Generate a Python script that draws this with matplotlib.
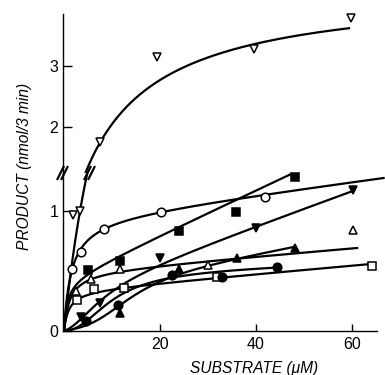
import numpy as np
import matplotlib
matplotlib.use("Agg")
import matplotlib.pyplot as plt
from matplotlib.lines import Line2D

plt.rcParams['font.family'] = ['Liberation Sans', 'DejaVu Sans']

# ---------------- data ----------------
# substrate (uM) and product (nmol/3 min) per series
s_opendown = [1.8, 3.4, 7.5, 19.3, 39.6, 59.8]
v_opendown = [0.97, 1.0, 1.76, 3.15, 3.28, 3.79]

s_opencirc = [1.7, 3.5, 8.3, 20.3, 41.8]
v_opencirc = [0.52, 0.66, 0.85, 0.99, 1.12]

s_fillsq = [4.9, 11.6, 23.9, 35.8, 48.1]
v_fillsq = [0.51, 0.585, 0.83, 0.99, 1.28]

s_filldown = [3.6, 7.5, 20.0, 40.0, 60.3]
v_filldown = [0.12, 0.23, 0.61, 0.86, 1.175]

s_openup = [2.6, 5.6, 11.7, 29.9, 60.1]
v_openup = [0.33, 0.43, 0.52, 0.55, 0.84]

s_opensq = [2.8, 6.3, 12.4, 31.8, 64.1]
v_opensq = [0.26, 0.35, 0.36, 0.45, 0.545]

s_fillcirc = [4.6, 11.3, 22.4, 33.0, 44.3]
v_fillcirc = [0.08, 0.22, 0.47, 0.45, 0.535]

s_fillup = [11.7, 24.0, 36.0, 48.2]
v_fillup = [0.15, 0.52, 0.61, 0.69]

# fitted curve parameters: (Vmax, K, n, linear k, S end)
fit_opendown = (4.3, 11.0, 1, 0.0, 59.6)
fit_opencirc = (0.95, 1.5, 1, 0.0052, 66.8)
fit_fillsq = (0.43, 0.7, 1, 0.0187, 48.1)
fit_filldown = (0.30, 8.0, 2, 0.0145, 60.3)
fit_openup = (0.5, 1.2, 1, 0.0033, 61.3)
fit_opensq = (0.34, 1.0, 1, 0.0035, 64.1)
fit_fillcirc = (0.48, 10.0, 2.2, 0.0015, 44.3)
fit_fillup = (0.35, 14.0, 3, 0.0075, 48.2)

x_ticks = [20, 40, 60]
y_ticks_low = [0, 1]
y_ticks_high = [2, 3]

# ---------------- layout ----------------
W, H = 385, 375
fig = plt.figure(figsize=(W / 100, H / 100), dpi=100)


def frac(x0, y0, x1, y1):
    return [x0 / W, 1 - y1 / H, (x1 - x0) / W, (y1 - y0) / H]


ax_lo = fig.add_axes(frac(62.5, 173, 377, 331))
ax_hi = fig.add_axes(frac(62.5, 14, 377, 173))

XL = (-0.31, 65.2)
ax_lo.set_xlim(*XL)
ax_hi.set_xlim(*XL)
ax_lo.set_ylim(0, 1.317)
ax_hi.set_ylim(1.242, 3.862)

for ax in (ax_lo, ax_hi):
    ax.patch.set_visible(False)
    for sp in ('top', 'right'):
        ax.spines[sp].set_visible(False)
    ax.spines['left'].set_linewidth(1.0)
ax_hi.spines['bottom'].set_visible(False)
ax_lo.spines['bottom'].set_linewidth(1.0)

tick_kw = dict(direction='in', width=1.0, labelsize=11.5, color='black')
ax_lo.tick_params(axis='x', length=5, pad=4, **tick_kw)
ax_lo.tick_params(axis='y', length=6.5, pad=3, **tick_kw)
ax_hi.tick_params(axis='y', length=6.5, pad=3, **tick_kw)
ax_hi.tick_params(axis='x', bottom=False, labelbottom=False)
ax_lo.set_xticks(x_ticks)
ax_lo.set_yticks(y_ticks_low)
ax_hi.set_yticks(y_ticks_high)


def fit(S, V, K, n, k):
    S = np.asarray(S, dtype=float)
    return V * S ** n / (K ** n + S ** n) + k * S


lw = 1.6
BREAK = 1.28


def draw_curve(params, axes, clip=True):
    V, K, n, k, smax = params
    S = np.linspace(0, smax, 400)
    for ax in axes:
        ax.plot(S, fit(S, V, K, n, k), color='black', lw=lw,
                solid_capstyle='butt', clip_on=clip, zorder=2)


draw_curve(fit_opendown, (ax_lo, ax_hi))
draw_curve(fit_opencirc, (ax_lo,), clip=False)
draw_curve(fit_fillsq, (ax_lo,))
draw_curve(fit_filldown, (ax_lo,))
draw_curve(fit_openup, (ax_lo,))
draw_curve(fit_opensq, (ax_lo,))
draw_curve(fit_fillcirc, (ax_lo,))
draw_curve(fit_fillup, (ax_lo,))

ms = 6.2
mew = 1.1


def pts(ax, s, v, marker, filled):
    ax.plot(s, v, linestyle='none', marker=marker, ms=ms, mew=mew,
            mec='black', mfc='black' if filled else 'white',
            clip_on=False, zorder=4)


sd = np.array(s_opendown)
vd = np.array(v_opendown)
low = vd < BREAK
pts(ax_lo, sd[low], vd[low], 'v', False)
pts(ax_hi, sd[~low], vd[~low], 'v', False)
pts(ax_lo, s_opencirc, v_opencirc, 'o', False)
pts(ax_lo, s_fillsq, v_fillsq, 's', True)
pts(ax_lo, s_filldown, v_filldown, 'v', True)
pts(ax_lo, s_openup, v_openup, '^', False)
pts(ax_lo, s_opensq, v_opensq, 's', False)
pts(ax_lo, s_fillcirc, v_fillcirc, 'o', True)
pts(ax_lo, s_fillup, v_fillup, '^', True)


# break marks "//" on the axis and on the steep curve
def slashes(xpx, ypx):
    for dx in (-2.0, 2.0):
        xs = [(xpx + dx - 3) / W, (xpx + dx + 3) / W]
        ys = [1 - (ypx + 6) / H, 1 - (ypx - 6) / H]
        fig.add_artist(Line2D(xs, ys, color='black', lw=1.6))


slashes(62.5, 173)
slashes(89.5, 173)

fig.text(25 / W, 1 - 166 / H, 'PRODUCT (nmol/3 min)', rotation=90,
         style='italic', ha='center', va='center', fontsize=11.2)
fig.text(254 / W, 1 - 368 / H, 'SUBSTRATE (μM)', style='italic',
         ha='center', va='center', fontsize=11.2)

fig.savefig('out.png', dpi=100)
